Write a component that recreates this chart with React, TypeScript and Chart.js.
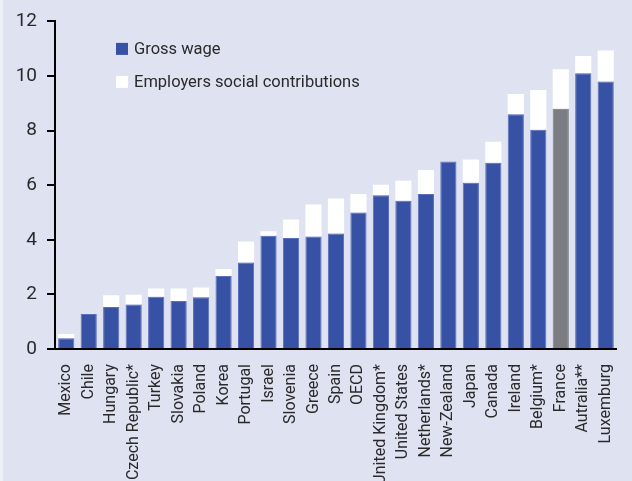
import React, { useEffect, useRef } from "react";
import { Chart, registerables } from "chart.js";

Chart.register(...registerables);

const categories = [
  "Mexico", "Chile", "Hungary", "Czech Republic*", "Turkey", "Slovakia", "Poland", "Korea",
  "Portugal", "Israel", "Slovenia", "Greece", "Spain", "OECD", "United Kingdom*", "United States",
  "Netherlands*", "New-Zealand", "Japan", "Canada", "Ireland", "Belgium*", "France", "Autralia**", "Luxemburg",
];

const grossWage = [
  0.39, 1.28, 1.54, 1.63, 1.91, 1.76, 1.9, 2.67, 3.17, 4.15, 4.07, 4.12, 4.23,
  5.0, 5.63, 5.43, 5.68, 6.87, 6.09, 6.82, 8.6, 8.03, 8.8, 10.1, 9.8,
];

const employerContrib = [
  0.16, 0, 0.43, 0.36, 0.31, 0.46, 0.35, 0.26, 0.77, 0.16, 0.67, 1.17, 1.28,
  0.68, 0.39, 0.73, 0.88, 0, 0.85, 0.77, 0.74, 1.46, 1.45, 0.63, 1.13,
];

const yTicks = [0, 2, 4, 6, 8, 10, 12];

const BLUE = "#3752a4";
const BLUE_EDGE = "#5a6fbf";
const GREY = "#7c7d83";
const BG = "#dfe2f1";
const TEXT = "#2a2a2a";
const FONT = "Roboto, 'Liberation Sans', sans-serif";

const legendPlugin = {
  id: "insideLegend",
  afterDraw(chart: any) {
    const { ctx, chartArea } = chart;
    ctx.save();
    ctx.font = `16.5px ${FONT}`;
    ctx.textBaseline = "middle";
    chart.data.datasets.forEach((ds: any, i: number) => {
      const x = chartArea.left + 61;
      const y = chartArea.top + 27.5 + i * 33;
      ctx.fillStyle = ds.legendColor;
      ctx.fillRect(x, y - 6, 12, 12);
      ctx.fillStyle = TEXT;
      ctx.fillText(ds.label, x + 18, y + 1);
    });
    ctx.restore();
  },
};

export default function App() {
  const ref = useRef<HTMLCanvasElement>(null);

  useEffect(() => {
    document.body.style.margin = "0";
    const chart = new Chart(ref.current!, {
      type: "bar",
      data: {
        labels: categories,
        datasets: [
          {
            label: "Gross wage",
            data: grossWage,
            backgroundColor: categories.map((c) => (c === "France" ? GREY : BLUE)),
            borderColor: categories.map((c) => (c === "France" ? GREY : BLUE_EDGE)),
            borderWidth: 1,
            barPercentage: 0.72,
            categoryPercentage: 1,
            legendColor: BLUE,
          } as any,
          {
            label: "Employers social contributions",
            data: employerContrib,
            backgroundColor: "#ffffff",
            borderWidth: 0,
            barPercentage: 0.72,
            categoryPercentage: 1,
            legendColor: "#ffffff",
          } as any,
        ],
      },
      options: {
        animation: false,
        responsive: false,
        maintainAspectRatio: false,
        layout: { padding: { top: 20, right: 4, left: 0, bottom: 0 } },
        plugins: {
          legend: { display: false },
          tooltip: { enabled: false },
        },
        scales: {
          x: {
            stacked: true,
            grid: { display: false },
            border: { display: true, color: "#000", width: 2 },
            ticks: {
              color: TEXT,
              font: { family: FONT, size: 16 },
              minRotation: 90,
              maxRotation: 90,
              autoSkip: false,
              padding: 7,
            },
            afterFit: (s: any) => {
              s.height = 132;
            },
          },
          y: {
            stacked: true,
            min: 0,
            max: 12,
            afterBuildTicks: (s: any) => {
              s.ticks = yTicks.map((v) => ({ value: v }));
            },
            grid: {
              drawOnChartArea: false,
              drawTicks: true,
              tickLength: 8,
              color: "#000",
              lineWidth: 2,
            },
            border: { display: true, color: "#000", width: 2 },
            ticks: {
              color: TEXT,
              font: { family: FONT, size: 19 },
              padding: 10,
            },
            afterFit: (s: any) => {
              s.width = 52;
            },
          },
        },
      },
      plugins: [legendPlugin],
    });
    return () => chart.destroy();
  }, []);

  return (
    <div style={{ width: 632, height: 481, background: BG, boxSizing: "border-box", borderLeft: "3px solid #eef0f8" }}>
      <canvas ref={ref} width={629} height={481} style={{ display: "block" }} />
    </div>
  );
}
